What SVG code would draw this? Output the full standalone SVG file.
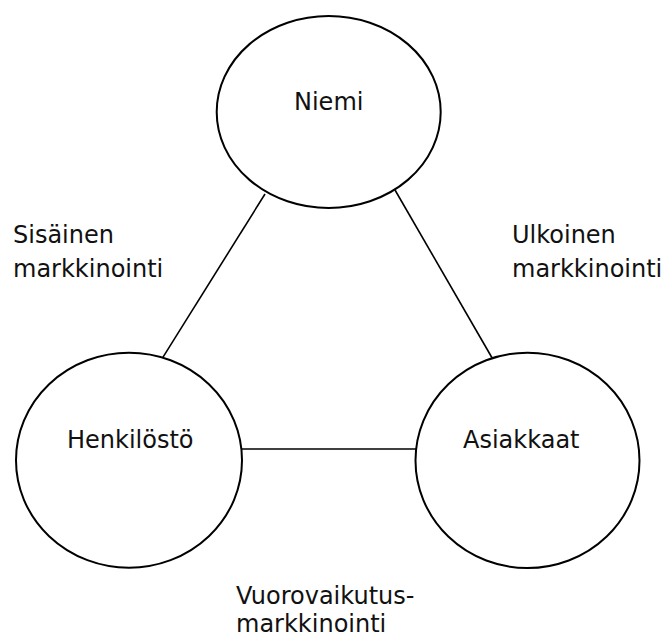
<svg xmlns="http://www.w3.org/2000/svg" width="662" height="639" viewBox="0 0 662 639">
  <style>
    .node { fill: #ffffff; stroke: #000000; stroke-width: 2; }
    .link { stroke: #000000; stroke-width: 1.6; fill: none; }
    text { font-family: "DejaVu Sans", "Liberation Sans", sans-serif; font-size: 24px; fill: #111111; }
  </style>
  <rect width="662" height="639" fill="#ffffff"/>

  <!-- connectors between the three parties -->
  <g id="connectors">
    <line class="link" x1="265" y1="194" x2="162.7" y2="357.7"/>
    <line class="link" x1="395" y1="190" x2="493.3" y2="360"/>
    <line class="link" x1="241" y1="449" x2="416" y2="449"/>
  </g>

  <g id="niemi">
    <ellipse class="node" cx="328.7" cy="112" rx="112" ry="96"/>
    <text x="294" y="110">Niemi</text>
  </g>

  <g id="henkilosto">
    <ellipse class="node" cx="129" cy="460.2" rx="113" ry="107.5"/>
    <text x="67" y="448">Henkilöstö</text>
  </g>

  <g id="asiakkaat">
    <ellipse class="node" cx="527.5" cy="460.4" rx="112" ry="107.7"/>
    <text x="463" y="448">Asiakkaat</text>
  </g>

  <!-- edge labels -->
  <g id="label-sisainen">
    <text x="13" y="243">Sisäinen</text>
    <text x="13" y="277">markkinointi</text>
  </g>
  <g id="label-ulkoinen">
    <text x="512" y="243">Ulkoinen</text>
    <text x="512" y="277">markkinointi</text>
  </g>
  <g id="label-vuorovaikutus">
    <text x="236" y="604">Vuorovaikutus-</text>
    <text x="236" y="632">markkinointi</text>
  </g>
</svg>
